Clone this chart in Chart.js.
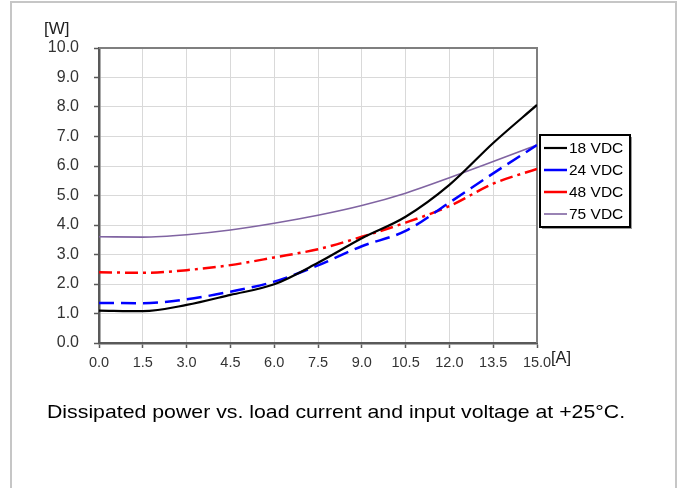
<!DOCTYPE html>
<html>
<head>
<meta charset="utf-8">
<script src="https://cdn.jsdelivr.net/npm/chart.js@4.4.1/dist/chart.umd.min.js"></script>
<style>
  html, body { margin: 0; padding: 0; background: #fff; width: 681px; height: 488px; overflow: hidden; }
  #frame { position: absolute; left: 10px; top: 1px; width: 663px; height: 520px; border: 2px solid #c6c6c6; }
  #chart { position: absolute; left: 0; top: 0; }
  #caption { position: absolute; left: 47px; top: 401px; font: 19px "Liberation Sans", Arial, sans-serif; color: #000; white-space: nowrap; transform: scaleX(1.12); transform-origin: 0 0; }
</style>
</head>
<body>
<div id="frame"></div>
<canvas id="chart" width="681" height="488"></canvas>
<div id="caption">Dissipated power vs. load current and input voltage at +25°C.</div>
<script>
// ---- data ----
const currentA = [0.0, 1.5, 3.0, 4.5, 6.0, 7.5, 9.0, 10.5, 12.0, 13.5, 15.0];
const labels = ["18 VDC", "24 VDC", "48 VDC", "75 VDC"];
const p18 = [1.10, 1.08, 1.29, 1.63, 1.99, 2.72, 3.55, 4.28, 5.36, 6.78, 8.07];
const p24 = [1.36, 1.35, 1.48, 1.74, 2.08, 2.63, 3.28, 3.80, 4.76, 5.75, 6.71];
const p48 = [2.40, 2.38, 2.47, 2.64, 2.90, 3.18, 3.60, 4.08, 4.64, 5.40, 5.90];
const p75 = [3.60, 3.59, 3.67, 3.83, 4.06, 4.33, 4.66, 5.08, 5.60, 6.15, 6.71];
const yUnit = "[W]";
const xUnit = "[A]";

const pts = arr => arr.map((v, i) => ({ x: currentA[i], y: v }));
const FONT = '"Liberation Sans", Arial, sans-serif';

const styles = [
  { color: "#000000", width: 2.2, dash: [] },
  { color: "#0000ff", width: 2.5, dash: [15, 7] },
  { color: "#ff0000", width: 2.5, dash: [13, 5, 3, 5] },
  { color: "#8064a2", width: 1.6, dash: [] }
];
const series = [p18, p24, p48, p75];

const datasets = series.map((s, i) => ({
  label: labels[i],
  data: pts(s),
  borderColor: styles[i].color,
  backgroundColor: styles[i].color,
  borderWidth: styles[i].width,
  borderDash: styles[i].dash,
  pointRadius: 0,
  fill: false,
  cubicInterpolationMode: "monotone"
}));

const framePlugin = {
  id: "frame",
  beforeDatasetsDraw(chart) {
    const { ctx, chartArea: a } = chart;
    ctx.save();
    ctx.strokeStyle = "#7f7f7f";
    ctx.lineWidth = 2;
    ctx.beginPath();
    ctx.moveTo(a.left, a.top);
    ctx.lineTo(a.right, a.top);
    ctx.lineTo(a.right, a.bottom);
    ctx.stroke();
    ctx.restore();
  },
  afterDraw(chart) {
    const { ctx, chartArea: a } = chart;
    ctx.save();
    // unit labels
    ctx.fillStyle = "#222";
    ctx.textBaseline = "middle";
    ctx.textAlign = "left";
    ctx.font = "17px " + FONT;
    ctx.fillText(yUnit, a.left - 55, a.top - 19);
    ctx.font = "16.5px " + FONT;
    ctx.fillText(xUnit, a.right + 14, a.bottom + 15);

    // legend box
    const L = a.right + 3, T = a.top + 87, W = 90, H = 92;
    ctx.fillStyle = "#9a9a9a";
    ctx.fillRect(L + 2, T + 2, W, H);
    ctx.fillStyle = "#fff";
    ctx.fillRect(L, T, W, H);
    ctx.strokeStyle = "#000";
    ctx.lineWidth = 2;
    ctx.strokeRect(L, T, W, H);
    chart.data.datasets.forEach((d, i) => {
      const y = T + 13 + i * 22;
      ctx.strokeStyle = d.borderColor;
      ctx.lineWidth = d.borderWidth;
      ctx.setLineDash([]);
      ctx.beginPath();
      ctx.moveTo(L + 4, y);
      ctx.lineTo(L + 27, y);
      ctx.stroke();
      ctx.fillStyle = "#000";
      ctx.font = "15.5px " + FONT;
      ctx.textBaseline = "middle";
      ctx.fillText(d.label, L + 29, y + 1);
    });
    ctx.restore();
  }
};

new Chart(document.getElementById("chart"), {
  type: "line",
  data: { datasets },
  options: {
    responsive: false,
    devicePixelRatio: 1,
    animation: false,
    layout: { padding: { left: 39, top: 48, right: 144, bottom: 115 } },
    plugins: { legend: { display: false }, tooltip: { enabled: false } },
    scales: {
      x: {
        type: "linear",
        min: 0, max: 15,
        afterFit: s => { s.height = 30; },
        afterBuildTicks: s => { s.ticks = currentA.map(v => ({ value: v })); },
        ticks: { stepSize: 1.5, padding: 6, color: "#333", font: { family: FONT, size: 14.5 }, callback: v => Number(v).toFixed(1), maxRotation: 0, autoSkip: false },
        grid: { color: "#d9d9d9", lineWidth: 1, tickLength: 5, tickColor: "#595959", tickWidth: 1.5 },
        border: { color: "#595959", width: 2.5 }
      },
      y: {
        min: 0, max: 10,
        afterFit: s => { s.width = 60; },
        ticks: { stepSize: 1, padding: 15, color: "#333", font: { family: FONT, size: 16 }, callback: v => Number(v).toFixed(1) },
        grid: { color: "#d9d9d9", lineWidth: 1, tickLength: 5, tickColor: "#595959", tickWidth: 1.5 },
        border: { color: "#595959", width: 2.5 }
      }
    }
  },
  plugins: [framePlugin]
});
</script>
</body>
</html>
